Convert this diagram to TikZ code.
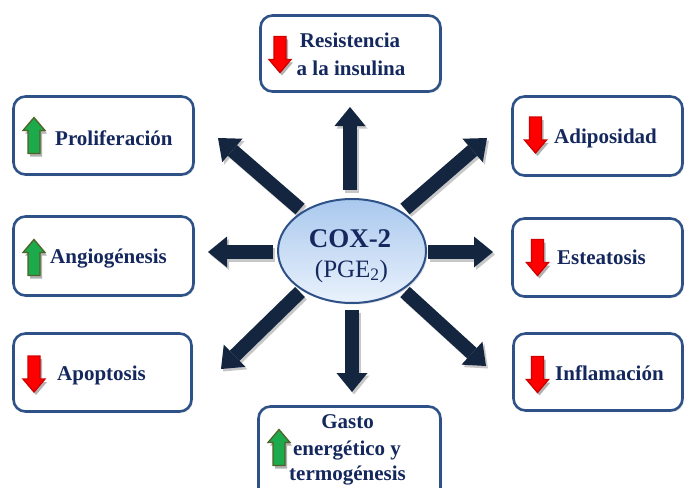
\documentclass[tikz,border=0pt]{standalone}
\usepackage{fontspec}
\setmainfont{Liberation Serif}
\usetikzlibrary{arrows.meta,shadows,shapes.geometric}
\definecolor{navytext}{HTML}{14285E}
\definecolor{boxblue}{HTML}{2E5288}
\definecolor{arrownavy}{HTML}{13253F}
\definecolor{icongreen}{HTML}{1DAA4C}
\definecolor{iconolive}{HTML}{4F6228}
\definecolor{iconred}{HTML}{FF0000}
\definecolor{iconredline}{HTML}{D00000}
\definecolor{ellipsetop}{HTML}{A9C8EE}
\definecolor{ellipsebot}{HTML}{EAF2FC}
\begin{document}
\begin{tikzpicture}[x=1pt,y=-1pt,
  infobox/.style={draw=boxblue, line width=2.6pt, rounded corners=12pt, fill=white,
    drop shadow={opacity=0.25, shadow xshift=1.5pt, shadow yshift=-1.5pt}},
  lbl/.style={font=\bfseries\fontsize{21}{25}\selectfont, text=navytext, inner sep=0pt},
  bigarrow/.style={draw=arrownavy, line width=14pt,
    -{Triangle[width=31pt,length=19pt,line width=0pt]}},
  arrowshade/.style={draw=black, opacity=0.22, line width=14pt,
    -{Triangle[width=31pt,length=19pt,line width=0pt]},
    transform canvas={shift={(2pt,-2.5pt)}}},
  upicon/.pic={
    \fill[black,opacity=0.3,shift={(2,3)}] (0,-18) -- (11,-5) -- (6,-5) -- (6,18) -- (-6,18) -- (-6,-5) -- (-11,-5) -- cycle;
    \filldraw[fill=icongreen, draw=iconolive, line width=1.3pt, line join=miter]
      (0,-18) -- (11,-5) -- (6,-5) -- (6,18) -- (-6,18) -- (-6,-5) -- (-11,-5) -- cycle;
  },
  downicon/.pic={
    \fill[black,opacity=0.3,shift={(2,3)}] (0,18) -- (11,5) -- (6,5) -- (6,-18) -- (-6,-18) -- (-6,5) -- (-11,5) -- cycle;
    \filldraw[fill=iconred, draw=iconredline, line width=1.3pt, line join=miter]
      (0,18) -- (11,5) -- (6,5) -- (6,-18) -- (-6,-18) -- (-6,5) -- (-11,5) -- cycle;
  }]
\useasboundingbox (0,0) rectangle (685,487);
\clip (0,0) rectangle (685,487);

% boxes
\node[infobox, minimum width=180pt, minimum height=76pt] (bRes) at (350.5,53.5) {};
\node[infobox, minimum width=180pt, minimum height=78pt] (bPro) at (103.5,135.5) {};
\node[infobox, minimum width=180pt, minimum height=79pt] (bAng) at (103.5,256) {};
\node[infobox, minimum width=178pt, minimum height=78pt] (bApo) at (102.5,372.5) {};
\node[infobox, minimum width=170pt, minimum height=79pt] (bAdi) at (597.5,136) {};
\node[infobox, minimum width=170pt, minimum height=78pt] (bEst) at (597.5,257.5) {};
\node[infobox, minimum width=169pt, minimum height=77pt] (bInf) at (598,372) {};
\node[infobox, minimum width=182pt, minimum height=100pt] (bGas) at (349.5,456.5) {};

% icons
\pic at (280,54.5) {downicon};
\pic at (34,135.5) {upicon};
\pic at (34,257.5) {upicon};
\pic at (34,374) {downicon};
\pic at (535.5,135) {downicon};
\pic at (537.5,257.5) {downicon};
\pic at (537.5,374.5) {downicon};
\pic at (279,447.5) {upicon};

% labels
\node[lbl, anchor=base] (tRes1) at (350,48) {Resistencia};
\node[lbl, anchor=base] (tRes2) at (351,75) {a la insulina};
\node[lbl, anchor=base west] (tPro) at (55,145) {Proliferación};
\node[lbl, anchor=base west] (tAng) at (50,263) {Angiogénesis};
\node[lbl, anchor=base west] (tApo) at (57,380) {Apoptosis};
\node[lbl, anchor=base west] (tAdi) at (554,143) {Adiposidad};
\node[lbl, anchor=base west] (tEst) at (557,264) {Esteatosis};
\node[lbl, anchor=base west] (tInf) at (555,380) {Inflamación};
\node[lbl, anchor=base] (tGas1) at (347.5,428) {Gasto};
\node[lbl, anchor=base] (tGas2) at (347,455) {energético y};
\node[lbl, anchor=base] (tGas3) at (347.5,480) {termogénesis};

% arrow coordinates
\coordinate (sN) at (350,190);  \coordinate (tN) at (350,107);
\coordinate (sS) at (352,310);  \coordinate (tS) at (352,392);
\coordinate (sW) at (273,252);  \coordinate (tW) at (208,252);
\coordinate (sE) at (428,252);  \coordinate (tE) at (493,252);
\coordinate (sNW) at (300,209); \coordinate (tNW) at (218,138);
\coordinate (sNE) at (405,209); \coordinate (tNE) at (487,138);
\coordinate (sSW) at (300,292); \coordinate (tSW) at (221,369);
\coordinate (sSE) at (405,292); \coordinate (tSE) at (486,366);

\foreach \d in {N,S,W,E,NW,NE,SW,SE} {
  \draw[arrowshade] (s\d) -- (t\d);
}
\foreach \d in {N,S,W,E,NW,NE,SW,SE} {
  \draw[bigarrow] (s\d) -- (t\d);
}

% centre ellipse
\node[ellipse, draw=boxblue, line width=2pt, minimum width=148pt, minimum height=104pt,
  top color=ellipsetop, bottom color=ellipsebot,
  drop shadow={opacity=0.25, shadow xshift=1.5pt, shadow yshift=-1.5pt}] (cox) at (352,251) {};
\node[font=\bfseries\fontsize{27}{30}\selectfont, text=navytext, inner sep=0pt, anchor=base] (tCox) at (350,247) {COX-2};
\node[font=\fontsize{25}{28}\selectfont, text=navytext, inner sep=0pt, anchor=base] (tPge) at (351.5,277) {(PGE\textsubscript{2})};
\end{tikzpicture}
\end{document}
